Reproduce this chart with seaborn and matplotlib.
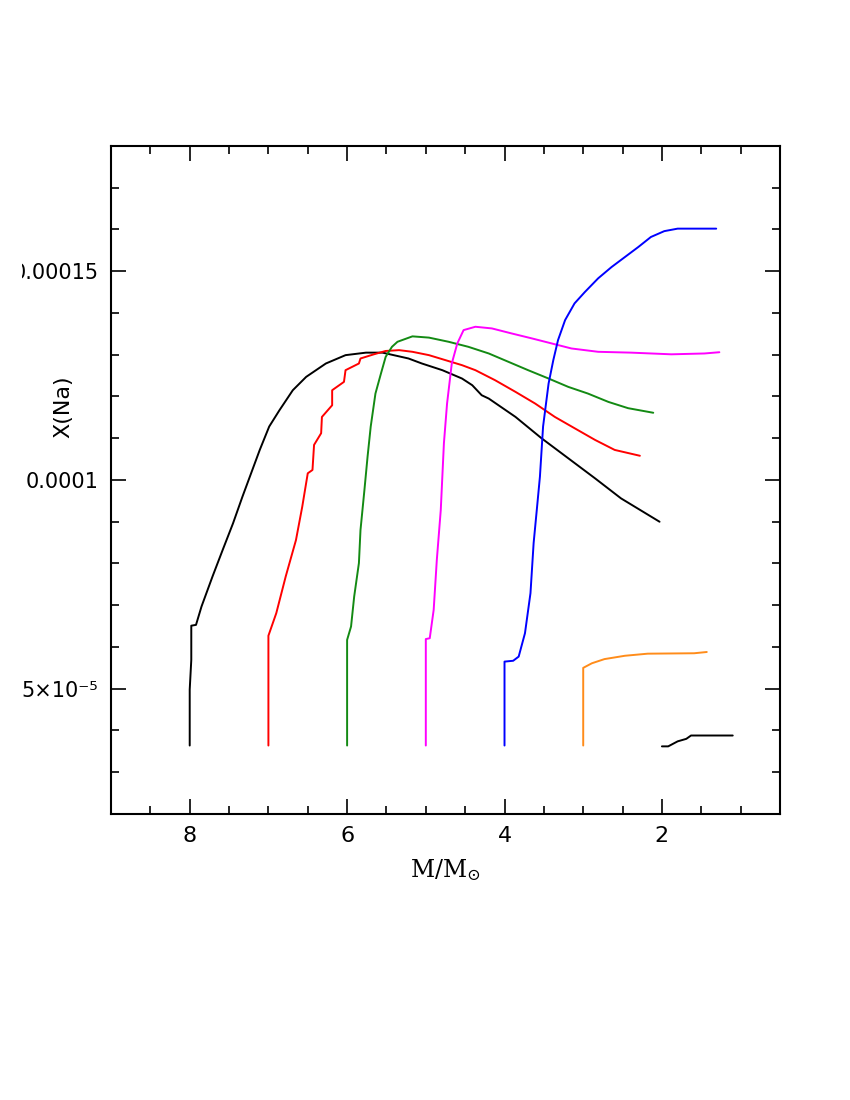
import numpy as np
import pandas as pd
import matplotlib
matplotlib.use("Agg")
import matplotlib.pyplot as plt
from matplotlib.ticker import MultipleLocator
from matplotlib.transforms import Bbox, TransformedBbox
import seaborn as sns

# ---- data (X(Na) in units of 1e-5) ----
m8_x = [8.0, 8.0, 7.98, 7.98, 7.92, 7.85, 7.71, 7.58, 7.45, 7.33, 7.22, 7.11, 6.99, 6.86,
        6.69, 6.52, 6.27, 6.02, 5.76, 5.55, 5.22, 5.05, 4.79, 4.54, 4.41, 4.29, 4.20,
        3.86, 3.53, 3.19, 2.85, 2.52, 2.03]
m8_y = [3.64, 4.98, 5.69, 6.51, 6.53, 6.97, 7.69, 8.33, 8.96, 9.60, 10.16, 10.72, 11.28, 11.67,
        12.15, 12.47, 12.79, 12.99, 13.05, 13.05, 12.91, 12.79, 12.63, 12.43, 12.27, 12.03, 11.95,
        11.51, 11.00, 10.52, 10.04, 9.56, 9.00]

m7_x = [7.0, 7.0, 7.0, 6.90, 6.78, 6.65, 6.57, 6.50, 6.44, 6.42, 6.33, 6.32, 6.19, 6.19,
        6.04, 6.02, 5.85, 5.83, 5.66, 5.51, 5.34, 5.17, 4.96, 4.75, 4.54, 4.37, 4.12,
        3.86, 3.61, 3.36, 3.11, 2.85, 2.60, 2.28]
m7_y = [3.64, 5.69, 6.27, 6.81, 7.69, 8.56, 9.36, 10.16, 10.24, 10.84, 11.12, 11.51, 11.79, 12.15,
        12.35, 12.63, 12.79, 12.91, 13.01, 13.09, 13.11, 13.07, 12.99, 12.87, 12.75, 12.63, 12.39,
        12.11, 11.83, 11.51, 11.24, 10.96, 10.72, 10.58]

m6_x = [6.0, 6.0, 5.95, 5.91, 5.85, 5.83, 5.78, 5.74, 5.70, 5.64, 5.57, 5.51, 5.43, 5.36,
        5.17, 4.96, 4.71, 4.46, 4.20, 3.95, 3.70, 3.44, 3.19, 2.94, 2.68, 2.43, 2.11]
m6_y = [3.64, 6.17, 6.49, 7.21, 8.01, 8.80, 9.76, 10.56, 11.28, 12.07, 12.55, 12.95, 13.19, 13.31,
        13.44, 13.41, 13.31, 13.19, 13.03, 12.83, 12.63, 12.43, 12.23, 12.07, 11.87, 11.72, 11.61]

m5_x = [5.0, 5.0, 4.95, 4.90, 4.86, 4.81, 4.77, 4.73, 4.67, 4.60, 4.52, 4.37, 4.16, 3.91,
        3.65, 3.40, 3.15, 2.81, 2.39, 1.88, 1.46, 1.27]
m5_y = [3.64, 6.19, 6.21, 6.89, 8.09, 9.28, 10.88, 11.83, 12.79, 13.27, 13.59, 13.67, 13.63, 13.51,
        13.39, 13.27, 13.15, 13.07, 13.05, 13.01, 13.03, 13.06]

m4_x = [4.0, 4.0, 3.89, 3.82, 3.74, 3.67, 3.63, 3.59, 3.55, 3.51, 3.44, 3.38, 3.32, 3.23,
        3.11, 2.98, 2.81, 2.64, 2.47, 2.30, 2.14, 1.97, 1.80, 1.31]
m4_y = [3.64, 5.65, 5.67, 5.77, 6.33, 7.29, 8.49, 9.28, 10.08, 11.28, 12.31, 12.87, 13.35, 13.83,
        14.23, 14.50, 14.83, 15.10, 15.34, 15.58, 15.82, 15.96, 16.02, 16.02]

m3_x = [3.0, 3.0, 2.89, 2.73, 2.47, 2.18, 1.59, 1.43]
m3_y = [3.64, 5.50, 5.61, 5.71, 5.79, 5.84, 5.85, 5.88]

m2_x = [2.0, 1.92, 1.80, 1.69, 1.63, 1.10]
m2_y = [3.62, 3.62, 3.74, 3.80, 3.88, 3.88]

models = ["8", "7", "6", "5", "4", "3", "2"]
colors = ["#000000", "#ff0000", "#138a13", "#ff00ff", "#0000ff", "#ff8c1a", "#000000"]
series_x = [m8_x, m7_x, m6_x, m5_x, m4_x, m3_x, m2_x]
series_y = [m8_y, m7_y, m6_y, m5_y, m4_y, m3_y, m2_y]

ytick_vals = [5e-5, 1e-4, 1.5e-4]
ytick_labels = ["5×10⁻⁵", "0.0001", "0.00015"]
xtick_vals = [8, 6, 4, 2]
xtick_labels = ["8", "6", "4", "2"]

rows = []
for name, xs, ys in zip(models, series_x, series_y):
    for i, (xv, yv) in enumerate(zip(xs, ys)):
        rows.append({"model": name, "idx": i, "M": xv, "XNa": yv * 1e-5})
df = pd.DataFrame(rows)

sns.set_theme(style="ticks")
plt.rcParams["font.family"] = ["DejaVu Sans"]
plt.rcParams["text.color"] = "black"
plt.rcParams["axes.labelcolor"] = "black"
plt.rcParams["xtick.color"] = "black"
plt.rcParams["ytick.color"] = "black"

fig = plt.figure(figsize=(8.5, 11), dpi=100)
ax = fig.add_axes([0.1306, 0.26, 0.787, 0.6073])

sns.lineplot(data=df, x="M", y="XNa", hue="model", hue_order=models,
             palette=dict(zip(models, colors)), sort=False, estimator=None,
             legend=False, linewidth=1.4, ax=ax)

ax.set_xlim(9, 0.5)
ax.set_ylim(2e-5, 1.8e-4)

ax.set_xticks(xtick_vals)
ax.set_xticklabels(xtick_labels)
ax.xaxis.set_minor_locator(MultipleLocator(0.5))
ax.set_yticks(ytick_vals)
ax.set_yticklabels(ytick_labels)
ax.yaxis.set_minor_locator(MultipleLocator(1e-5))

ax.tick_params(which="both", direction="in", top=True, right=True, color="black",
               labelcolor="black", width=1.2)
ax.tick_params(which="major", length=11, labelsize=15, pad=9)
ax.tick_params(which="minor", length=5.5)
ax.tick_params(axis="x", which="major", labelsize=16)
for s in ax.spines.values():
    s.set_linewidth(1.5)
    s.set_color("black")

ax.set_xlabel(r"$\mathrm{M/M}_{\odot}$", fontsize=17, color="black",
              math_fontfamily="dejavuserif")
ax.xaxis.set_label_coords(0.5, -0.065)
ax.set_ylabel("X(Na)", fontsize=16, color="black")
ax.yaxis.set_label_coords(-0.057, 0.609)

clip = TransformedBbox(Bbox.from_extents(22 / 850, 0, 1, 1), fig.transFigure)
for lab in ax.get_yticklabels():
    lab.set_clip_on(True)
    lab.set_clip_box(clip)

fig.savefig("out.png", dpi=100, facecolor="white")
